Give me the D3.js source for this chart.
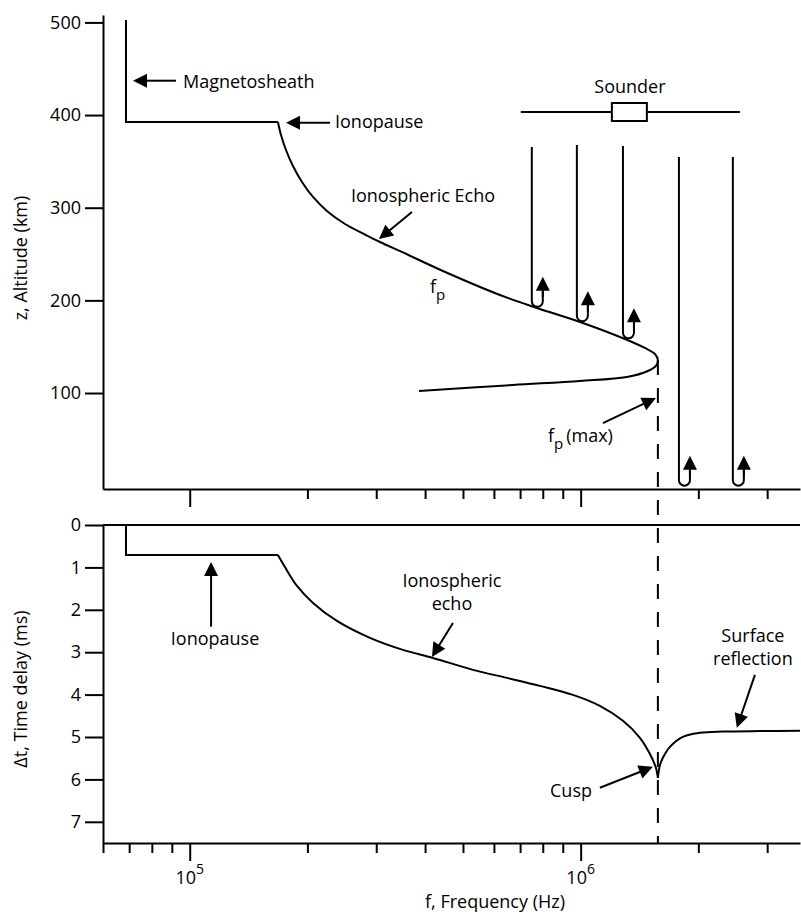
<!DOCTYPE html>
<html>
<head>
<meta charset="utf-8">
<script src="https://cdn.jsdelivr.net/npm/d3@7"></script>
<style>
  body { margin: 0; background: #fff; }
  text { font-family: "Open Sans", sans-serif; font-size: 18px; fill: #000; }
</style>
</head>
<body>
<div id="chart"></div>
<script>
// 1. DATA - frequency in Hz, altitude in km, delay in ms
const freqMinorTop = [2e5, 3e5, 4e5, 5e5, 6e5, 7e5, 8e5, 9e5, 2e6, 3e6];
const freqMinorBottom = [6e4, 7e4, 8e4, 9e4, 2e5, 3e5, 4e5, 5e5, 6e5, 7e5, 8e5, 9e5, 2e6, 3e6];
const freqMajor = [1e5, 1e6];
const freqMajorExp = ["5", "6"];
const altTicks = [100, 200, 300, 400, 500];
const delayTicks = [0, 1, 2, 3, 4, 5, 6, 7];

// top: magnetosheath / ionopause step, then f_p profile (upper branch, nose, lower branch)
const sheathFreq = [6.87e4, 6.87e4, 1.681e5];
const sheathAlt = [502.6, 392.5, 392.5];
const echoFreq = [1.681e5, 1.712e5, 1.763e5, 1.837e5, 1.937e5, 2.067e5, 2.244e5, 2.496e5, 2.807e5, 3.066e5,
                  3.511e5, 4.443e5, 6.217e5, 7.731e5, 1.013e6, 1.298e6, 1.460e6, 1.549e6, 1.576e6, 1.558e6,
                  1.486e6, 1.313e6, 9.96e5, 6.71e5, 3.858e5];
const echoAlt = [392.5, 378.5, 362.3, 345.0, 327.8, 311.6, 296.5, 282.4, 271.1, 263.0,
                 251.7, 231.7, 205.8, 191.8, 175.6, 158.3, 148.6, 142.1, 135.6, 129.2,
                 123.8, 117.3, 113.0, 108.7, 102.2];

// sounder rays: frequency, start altitude, turning altitude
const rayFreq = [7.5e5, 9.78e5, 1.283e6, 1.784e6, 2.451e6];
const rayTopAlt = [365.5, 367.7, 366.6, 354.7, 354.7];
const rayTurnAlt = [193, 177.5, 159, 0, 0];

const sounderFreq = [7.03e5, 2.555e6];
const sounderBoxFreq = [1.202e6, 1.477e6];
const sounderAlt = 403.3;

const fpMax = 1.576e6;
const fpMaxAlt = 135.6;

// bottom: time delay
const ionoDelayFreq = [6.87e4, 6.87e4, 1.681e5];
const ionoDelay = [0, 0.707, 0.707];
const echoDelayFreq = [1.681e5, 1.752e5, 1.881e5, 2.067e5, 2.380e5, 2.891e5, 3.511e5, 4.190e5, 5.303e5,
                       6.477e5, 7.866e5, 9.555e5, 1.120e6, 1.283e6, 1.418e6, 1.503e6, 1.558e6, 1.576e6];
const echoDelay = [0.707, 0.990, 1.438, 1.838, 2.263, 2.663, 2.946, 3.135, 3.417,
                   3.606, 3.794, 4.006, 4.266, 4.619, 5.020, 5.397, 5.727, 5.963];
const surfaceFreq = [1.576e6, 1.594e6, 1.623e6, 1.692e6, 1.826e6, 2.018e6, 2.312e6, 2.874e6, 3.64e6];
const surfaceDelay = [5.963, 5.680, 5.491, 5.232, 4.996, 4.902, 4.872, 4.860, 4.855];

// annotations (data units)
const topLabels = [
  { text: "Magnetosheath", f: 9.61e4, alt: 428.9, anchor: "start" },
  { text: "Ionopause", f: 2.353e5, alt: 386.0, anchor: "start" },
  { text: "Ionospheric Echo", f: 3.951e5, alt: 306.2, anchor: "middle" },
  { text: "Sounder", f: 1.337e6, alt: 423.8, anchor: "middle" }
];
const topArrows = [
  { tail: [9.22e4, 437.1], tip: [7.16e4, 437.1] },
  { tail: [2.285e5, 391.8], tip: [1.763e5, 391.8] },
  { tail: [3.702e5, 295.4], tip: [3.048e5, 266.2] },
  { tail: [1.140e6, 67.6], tip: [1.558e6, 94.6] }
];
const fpLabels = [
  { f: 4.117e5, alt: 207.9, rest: "" },
  { f: 8.248e5, alt: 47.1, rest: "(max)" }
];
const bottomLabels = [
  { lines: ["Ionopause"], f: 1.161e5, delay: 2.828, anchor: "middle" },
  { lines: ["Ionospheric", "echo"], f: 4.686e5, delay: 1.461, anchor: "middle" },
  { lines: ["Surface", "reflection"], f: 2.758e6, delay: 2.750, anchor: "middle" },
  { lines: ["Cusp"], f: 1.069e6, delay: 6.411, anchor: "end" }
];
const bottomArrows = [
  { tail: [1.134e5, 2.397], tip: [1.134e5, 0.872] },
  { tail: [4.713e5, 2.310], tip: [4.165e5, 3.111] },
  { tail: [2.791e6, 3.535], tip: [2.509e6, 4.784] },
  { tail: [1.120e6, 6.198], tip: [1.530e6, 5.703] }
];

// 2. SIZE AND SCALES
const W = 801, H = 917;
const left = 103, right = 800;

const x = d3.scaleLog().domain([6e4, 3.64e6]).range([left, right]);
const yAlt = d3.scaleLinear().domain([-3.6, 508]).range([489, 15]);
const yDel = d3.scaleLinear().domain([0, 7.5]).range([525, 843]);

const svg = d3.select("#chart")
    .append("svg")
    .attr("width", W)
    .attr("height", H);

// helper: straight arrow with filled head (pixel coords)
function arrow(g, x1, y1, x2, y2) {
  const L = 14, hw = 7;
  const dx = x2 - x1, dy = y2 - y1;
  const len = Math.hypot(dx, dy);
  const ux = dx / len, uy = dy / len;
  g.append("line")
      .attr("x1", x1).attr("y1", y1)
      .attr("x2", x2 - ux * (L - 2)).attr("y2", y2 - uy * (L - 2))
      .attr("stroke", "#000")
      .attr("stroke-width", 2);
  const bx = x2 - ux * L, by = y2 - uy * L;
  g.append("path")
      .attr("d", `M${x2},${y2}L${bx - uy * hw},${by + ux * hw}L${bx + uy * hw},${by - ux * hw}Z`)
      .attr("fill", "#000");
}

function styleAxis(g) {
  g.selectAll("path, line").attr("stroke", "#000").attr("stroke-width", 2);
  g.selectAll("text")
      .attr("font-family", "'Open Sans', sans-serif")
      .attr("font-size", 18)
      .attr("fill", "#000");
}

//--------------------------
// TOP PANEL: ALTITUDE
//--------------------------
const topG = svg.append("g");

topG.append("g")
    .attr("transform", `translate(${left},0)`)
    .call(d3.axisLeft(yAlt).tickValues(altTicks).tickSize(18).tickSizeOuter(0).tickPadding(4))
    .call(styleAxis);

topG.append("g")
    .attr("transform", `translate(0,${yAlt.range()[0]})`)
    .call(d3.axisBottom(x).tickValues(freqMinorTop).tickSize(10).tickSizeOuter(0).tickFormat(""))
    .call(styleAxis);

topG.append("g")
    .attr("transform", `translate(0,${yAlt.range()[0]})`)
    .call(d3.axisBottom(x).tickValues(freqMajor).tickSize(18).tickFormat(""))
    .call(g => g.select(".domain").remove())
    .call(styleAxis);

const lineTop = d3.line()
    .x(d => x(d[0]))
    .y(d => yAlt(d[1]));

topG.append("path")
    .datum(sheathFreq.map((f, i) => [f, sheathAlt[i]]))
    .attr("fill", "none")
    .attr("stroke", "#000")
    .attr("stroke-width", 2)
    .attr("d", lineTop);

topG.append("path")
    .datum(echoFreq.map((f, i) => [f, echoAlt[i]]))
    .attr("fill", "none")
    .attr("stroke", "#000")
    .attr("stroke-width", 2)
    .attr("d", lineTop.curve(d3.curveCatmullRom.alpha(0.5)));

// sounder
topG.append("line")
    .attr("x1", x(sounderFreq[0]))
    .attr("x2", x(sounderFreq[1]))
    .attr("y1", yAlt(sounderAlt))
    .attr("y2", yAlt(sounderAlt))
    .attr("stroke", "#000")
    .attr("stroke-width", 2);

topG.append("rect")
    .attr("x", x(sounderBoxFreq[0]))
    .attr("y", yAlt(sounderAlt) - 9)
    .attr("width", x(sounderBoxFreq[1]) - x(sounderBoxFreq[0]))
    .attr("height", 18)
    .attr("fill", "#fff")
    .attr("stroke", "#000")
    .attr("stroke-width", 2);

// rays going down, turning, coming back up
rayFreq.forEach((f, i) => {
  const xl = x(f), r = 5.5, xr = xl + 2 * r;
  const yt = yAlt(rayTopAlt[i]), yb = yAlt(rayTurnAlt[i]);
  topG.append("path")
      .attr("d", `M${xl},${yt}L${xl},${yb - r}A${r},${r} 0 0 0 ${xr},${yb - r}L${xr},${yb - 16}`)
      .attr("fill", "none")
      .attr("stroke", "#000")
      .attr("stroke-width", 2);
  arrow(topG, xr, yb - 10, xr, yb - 30);
});

topArrows.forEach(a => arrow(topG, x(a.tail[0]), yAlt(a.tail[1]), x(a.tip[0]), yAlt(a.tip[1])));

topG.selectAll(".lbl")
    .data(topLabels)
    .enter()
    .append("text")
    .attr("x", d => x(d.f))
    .attr("y", d => yAlt(d.alt))
    .attr("text-anchor", d => d.anchor)
    .text(d => d.text);

fpLabels.forEach(d => {
  const t = topG.append("text")
      .attr("x", x(d.f))
      .attr("y", yAlt(d.alt));
  t.append("tspan").text("f");
  t.append("tspan").attr("dy", 7).attr("font-size", 15).text("p");
  if (d.rest) t.append("tspan").attr("dy", -7).attr("dx", 3).text(d.rest);
});

svg.append("text")
    .attr("transform", `translate(27,258) rotate(-90)`)
    .attr("text-anchor", "middle")
    .text("z, Altitude (km)");

//--------------------------
// BOTTOM PANEL: TIME DELAY
//--------------------------
const botG = svg.append("g");

botG.append("line")
    .attr("x1", left)
    .attr("x2", right)
    .attr("y1", yDel(0))
    .attr("y2", yDel(0))
    .attr("stroke", "#000")
    .attr("stroke-width", 2);

botG.append("g")
    .attr("transform", `translate(${left},0)`)
    .call(d3.axisLeft(yDel).tickValues(delayTicks).tickSize(18).tickSizeOuter(0).tickPadding(4))
    .call(styleAxis);

botG.append("g")
    .attr("transform", `translate(0,${yDel.range()[1]})`)
    .call(d3.axisBottom(x).tickValues(freqMinorBottom).tickSize(10).tickSizeOuter(0).tickFormat(""))
    .call(styleAxis);

botG.append("g")
    .attr("transform", `translate(0,${yDel.range()[1]})`)
    .call(d3.axisBottom(x).tickValues(freqMajor).tickSize(18).tickFormat(""))
    .call(g => g.select(".domain").remove())
    .call(styleAxis);

freqMajor.forEach((f, i) => {
  const t = botG.append("text")
      .attr("x", x(f))
      .attr("y", 884)
      .attr("text-anchor", "middle");
  t.append("tspan").text("10");
  t.append("tspan").attr("dy", -10).attr("font-size", 14).text(freqMajorExp[i]);
});

const lineBot = d3.line()
    .x(d => x(d[0]))
    .y(d => yDel(d[1]));

botG.append("path")
    .datum(ionoDelayFreq.map((f, i) => [f, ionoDelay[i]]))
    .attr("fill", "none")
    .attr("stroke", "#000")
    .attr("stroke-width", 2)
    .attr("d", lineBot);

const curveBot = d3.line()
    .x(d => x(d[0]))
    .y(d => yDel(d[1]))
    .curve(d3.curveCatmullRom.alpha(0.5));

botG.append("path")
    .datum(echoDelayFreq.map((f, i) => [f, echoDelay[i]]))
    .attr("fill", "none")
    .attr("stroke", "#000")
    .attr("stroke-width", 2)
    .attr("d", curveBot);

botG.append("path")
    .datum(surfaceFreq.map((f, i) => [f, surfaceDelay[i]]))
    .attr("fill", "none")
    .attr("stroke", "#000")
    .attr("stroke-width", 2)
    .attr("d", curveBot);

bottomArrows.forEach(a => arrow(botG, x(a.tail[0]), yDel(a.tail[1]), x(a.tip[0]), yDel(a.tip[1])));

bottomLabels.forEach(d => {
  const t = botG.append("text")
      .attr("x", x(d.f))
      .attr("y", yDel(d.delay))
      .attr("text-anchor", d.anchor);
  d.lines.forEach((s, j) => {
    t.append("tspan")
        .attr("x", x(d.f))
        .attr("dy", j === 0 ? 0 : 23.5)
        .text(s);
  });
});

svg.append("text")
    .attr("transform", `translate(27,689) rotate(-90)`)
    .attr("text-anchor", "middle")
    .text("\u0394t, Time delay (ms)");

svg.append("text")
    .attr("x", 495)
    .attr("y", 908)
    .attr("text-anchor", "middle")
    .text("f, Frequency (Hz)");

// f_p(max) dashed marker through both panels
svg.append("line")
    .attr("x1", x(fpMax))
    .attr("x2", x(fpMax))
    .attr("y1", yAlt(fpMaxAlt))
    .attr("y2", yDel(7.5))
    .attr("stroke", "#000")
    .attr("stroke-width", 2)
    .attr("stroke-dasharray", "15,13");
</script>
</body>
</html>
